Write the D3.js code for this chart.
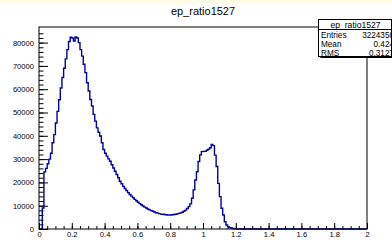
<!DOCTYPE html>
<html>
<head>
<meta charset="utf-8">
<script src="https://cdn.jsdelivr.net/npm/d3@7"></script>
<style>
  body { margin: 0; background: #fff; }
  svg { display: block; font-family: "Liberation Sans", Arial, sans-serif; }
</style>
</head>
<body>
<svg id="chart" width="392" height="249"></svg>
<script>
/* histogram ep_ratio1527: 200 bins on [0, 2] */
var histTitle = 'ep_ratio1527';
var binLow = 0, binHigh = 2, binWidth = 0.01;
var binValues = [
    0, 0, 9000, 24500, 26000, 28000, 30000, 32500, 37000, 40500,
    45500, 50500, 55500, 60500, 65000, 69000, 73000, 77000, 80500, 82300,
    82000, 80700, 82400, 82000, 80000, 77000, 74200, 70700, 67100, 62800,
    59200, 55600, 52800, 49200, 46300, 43400, 41500, 39900, 37000, 34100,
    32500, 31300, 30100, 29100, 27600, 26200, 24800, 23400, 22000, 20500,
    19400, 18300, 17400, 16500, 15600, 14800, 14100, 13400, 12700, 12100,
    11500, 10900, 10400, 9900, 9400, 9000, 8600, 8200, 7900, 7600,
    7300, 7000, 6800, 6600, 6400, 6300, 6200, 6100, 6000, 6000,
    6000, 6100, 6200, 6300, 6500, 6700, 6900, 7200, 7600, 8100,
    8800, 9600, 10800, 13200, 16800, 21000, 24600, 29000, 31800, 33200,
    33300, 33300, 33800, 34300, 34900, 36300, 35800, 31700, 26800, 19600,
    13900, 8900, 6000, 3100, 1700, 1000, 600, 400, 200, 100,
    50
];
var yMax = 86700;
var xMajorTicks = [0, 0.2, 0.4, 0.6, 0.8, 1, 1.2, 1.4, 1.6, 1.8, 2];
var yMajorTicks = [0, 10000, 20000, 30000, 40000, 50000, 60000, 70000, 80000];
var statNames = ['Entries', 'Mean', 'RMS'];
var statValues = ['3224350', '0.424', '0.3127'];

var svg = d3.select('#chart');
var frame = { left: 39, right: 367, top: 27, bottom: 229 };

var x = d3.scaleLinear().domain([binLow, binHigh]).range([frame.left, frame.right]);
var y = d3.scaleLinear().domain([0, yMax]).range([frame.bottom, frame.top]);

// pale strip on top of the canvas
svg.append('rect').attr('x', 0).attr('y', 0).attr('width', 392).attr('height', 3.5)
    .attr('fill', '#fdfce6');

// minor ticks first, majors on top
var xMinor = d3.range(0, 40.5).map(function (i) { return i * 0.05; });
var yMinor = d3.range(0, 43).map(function (i) { return i * 2000; });

svg.append('g').attr('transform', 'translate(0,' + frame.bottom + ')')
    .call(d3.axisBottom(x).tickValues(xMinor).tickSize(-3).tickFormat(''))
    .call(function (g) { g.select('.domain').remove(); });

svg.append('g').attr('transform', 'translate(' + frame.left + ',0)')
    .call(d3.axisLeft(y).tickValues(yMinor).tickSize(-4.5).tickFormat(''))
    .call(function (g) { g.select('.domain').remove(); });

var xAxis = svg.append('g').attr('transform', 'translate(0,' + frame.bottom + ')')
    .call(d3.axisBottom(x).tickValues(xMajorTicks).tickSize(-6).tickPadding(3)
        .tickFormat(function (d) { return d3.format('')(d); }));
xAxis.select('.domain').remove();

var yAxis = svg.append('g').attr('transform', 'translate(' + frame.left + ',0)')
    .call(d3.axisLeft(y).tickValues(yMajorTicks).tickSize(-9).tickPadding(5)
        .tickFormat(d3.format('d')));
yAxis.select('.domain').remove();

svg.selectAll('.tick line').attr('stroke', '#000').attr('stroke-width', 1);
svg.selectAll('.tick text').attr('font-size', 7.6).attr('fill', '#000')
    .attr('font-family', '"Liberation Sans", Arial, sans-serif');
yAxis.selectAll('.tick text').attr('x', -5);

// histogram as a step line
var stepPts = [[binLow, 0]];
binValues.forEach(function (v, i) {
    stepPts.push([binLow + i * binWidth, v]);
    stepPts.push([binLow + (i + 1) * binWidth, v]);
});
stepPts.push([binLow + binValues.length * binWidth, 0]);
stepPts.push([binHigh, 0]);

svg.append('path')
    .datum(stepPts)
    .attr('fill', 'none')
    .attr('stroke', '#0000a0')
    .attr('stroke-width', 1.4)
    .attr('d', d3.line().x(function (d) { return x(d[0]); }).y(function (d) { return y(d[1]); }));

// frame
svg.append('rect')
    .attr('x', frame.left).attr('y', frame.top)
    .attr('width', frame.right - frame.left).attr('height', frame.bottom - frame.top)
    .attr('fill', 'none').attr('stroke', '#000').attr('stroke-width', 1);

// title
svg.append('text').attr('x', (frame.left + frame.right) / 2).attr('y', 15)
    .attr('text-anchor', 'middle').attr('font-size', 11).text(histTitle);

// stats box
var box = { x: 318.5, y: 19.5, w: 73, h: 37 };
svg.append('line').attr('x1', box.x + 2).attr('x2', 392).attr('y1', box.y + box.h + 1).attr('y2', box.y + box.h + 1)
    .attr('stroke', '#000').attr('stroke-width', 1);
svg.append('rect').attr('x', box.x).attr('y', box.y).attr('width', box.w).attr('height', box.h)
    .attr('fill', '#fff').attr('stroke', '#000').attr('stroke-width', 1);
svg.append('line').attr('x1', box.x).attr('x2', box.x + box.w).attr('y1', 29.5).attr('y2', 29.5)
    .attr('stroke', '#000').attr('stroke-width', 1);
svg.append('text').attr('x', box.x + box.w / 2 + 0.5).attr('y', 27.5).attr('text-anchor', 'middle')
    .attr('font-size', 8.6).text(histTitle);

statNames.forEach(function (name, i) {
    var ty = 37.5 + i * 9.3;
    svg.append('text').attr('x', box.x + 2.5).attr('y', ty).attr('font-size', 8.2).text(name);
    svg.append('text').attr('x', 394).attr('y', ty).attr('text-anchor', 'end')
        .attr('font-size', 8.2).text(statValues[i]);
});
</script>
</body>
</html>
